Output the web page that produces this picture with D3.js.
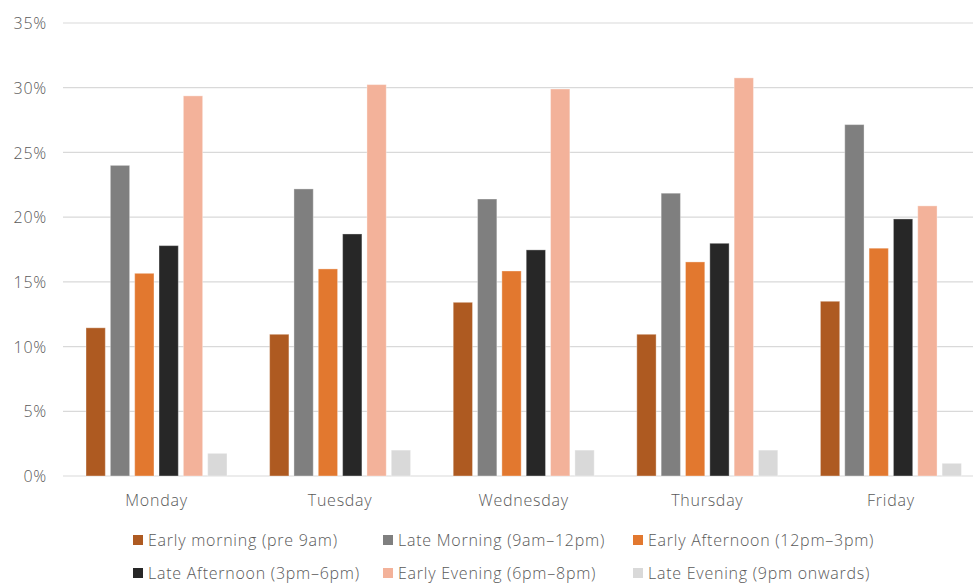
<!DOCTYPE html>
<html>
<head>
<meta charset="utf-8">
<script src="https://cdn.jsdelivr.net/npm/d3@7"></script>
<style>
  html, body { margin: 0; padding: 0; background: #fff; }
  svg { display: block; font-family: "Open Sans", "DejaVu Sans", sans-serif; }
</style>
</head>
<body>
<svg id="chart" width="973" height="584"></svg>
<script>
const days = ["Monday", "Tuesday", "Wednesday", "Thursday", "Friday"];
const seriesNames = [
  "Early morning (pre 9am)",
  "Late Morning (9am–12pm)",
  "Early Afternoon (12pm–3pm)",
  "Late Afternoon (3pm–6pm)",
  "Early Evening (6pm–8pm)",
  "Late Evening (9pm onwards)"
];
const seriesColors = ["#AE5A21", "#7F7F7F", "#E2782F", "#272727", "#F3B29A", "#D9D9D9"];
// values in %, one array per series, ordered Monday..Friday
const earlyMorning   = [11.45, 10.95, 13.42, 10.95, 13.5];
const lateMorning    = [24.0, 22.18, 21.4, 21.85, 27.15];
const earlyAfternoon = [15.66, 16.0, 15.84, 16.54, 17.6];
const lateAfternoon  = [17.8, 18.7, 17.47, 17.98, 19.86];
const earlyEvening   = [29.37, 30.24, 29.9, 30.76, 20.87];
const lateEvening    = [1.75, 2.0, 2.0, 2.0, 0.98];
const seriesValues = [earlyMorning, lateMorning, earlyAfternoon, lateAfternoon, earlyEvening, lateEvening];
const yTicks = [0, 5, 10, 15, 20, 25, 30, 35];

const svg = d3.select("#chart");
const textColor = "#595959";
const fontSize = 16;
const spacing = "0.75px";

const x0 = d3.scaleBand().domain(days).range([64.7, 982.7]).paddingInner(0).paddingOuter(0);
const x1 = d3.scaleBand().domain(d3.range(seriesNames.length))
  .range([0, x0.bandwidth()]).paddingInner(0.207).paddingOuter(0.876);
const y = d3.scaleLinear().domain([0, 35]).range([476, 23]);

// gridlines
svg.append("g").selectAll("line").data(yTicks).join("line")
  .attr("x1", 63).attr("x2", 973)
  .attr("y1", d => y(d)).attr("y2", d => y(d))
  .attr("stroke", "#D9D9D9").attr("stroke-width", 1.2);

// y axis labels
const yAxis = d3.axisLeft(y).tickValues(yTicks).tickFormat(d => d + "%").tickSize(0).tickPadding(0);
const yg = svg.append("g").attr("transform", "translate(47,0)").call(yAxis);
yg.select(".domain").remove();
yg.selectAll("text").attr("fill", textColor).attr("font-size", fontSize)
  .attr("font-family", "'Open Sans', sans-serif").attr("font-weight", 300)
  .attr("letter-spacing", spacing).attr("dy", "0.35em");

// bars
const groups = svg.append("g").selectAll("g").data(days).join("g")
  .attr("transform", d => `translate(${x0(d)},0)`);
groups.selectAll("rect").data((d, i) => seriesValues.map((s, k) => ({k, v: s[i]}))).join("rect")
  .attr("x", d => x1(d.k))
  .attr("width", x1.bandwidth())
  .attr("y", d => y(d.v))
  .attr("height", d => y(0) - y(d.v))
  .attr("fill", d => seriesColors[d.k])
  .attr("stroke", "rgba(255,255,255,0.35)")
  .attr("stroke-width", 1);

// x axis labels
const xAxis = d3.axisBottom(x0).tickSize(0).tickPadding(0);
const xg = svg.append("g").attr("transform", "translate(0,500)").call(xAxis);
xg.select(".domain").remove();
xg.selectAll("text").attr("fill", textColor).attr("font-size", fontSize)
  .attr("font-family", "'Open Sans', sans-serif").attr("font-weight", 300)
  .attr("letter-spacing", spacing).attr("dy", "0.35em");

// legend
const legendX = [133, 383, 633];
const legendY = [540, 573];
const lg = svg.append("g").selectAll("g").data(seriesNames).join("g")
  .attr("transform", (d, i) => `translate(${legendX[i % 3]},${legendY[Math.floor(i / 3)]})`);
lg.append("rect").attr("x", 0).attr("y", -5).attr("width", 10).attr("height", 10)
  .attr("fill", (d, i) => seriesColors[i]);
lg.append("text").attr("x", 15).attr("y", 0).attr("dy", "0.35em")
  .attr("fill", textColor).attr("font-size", fontSize).attr("font-weight", 300)
  .attr("letter-spacing", spacing)
  .text(d => d);
</script>
</body>
</html>
